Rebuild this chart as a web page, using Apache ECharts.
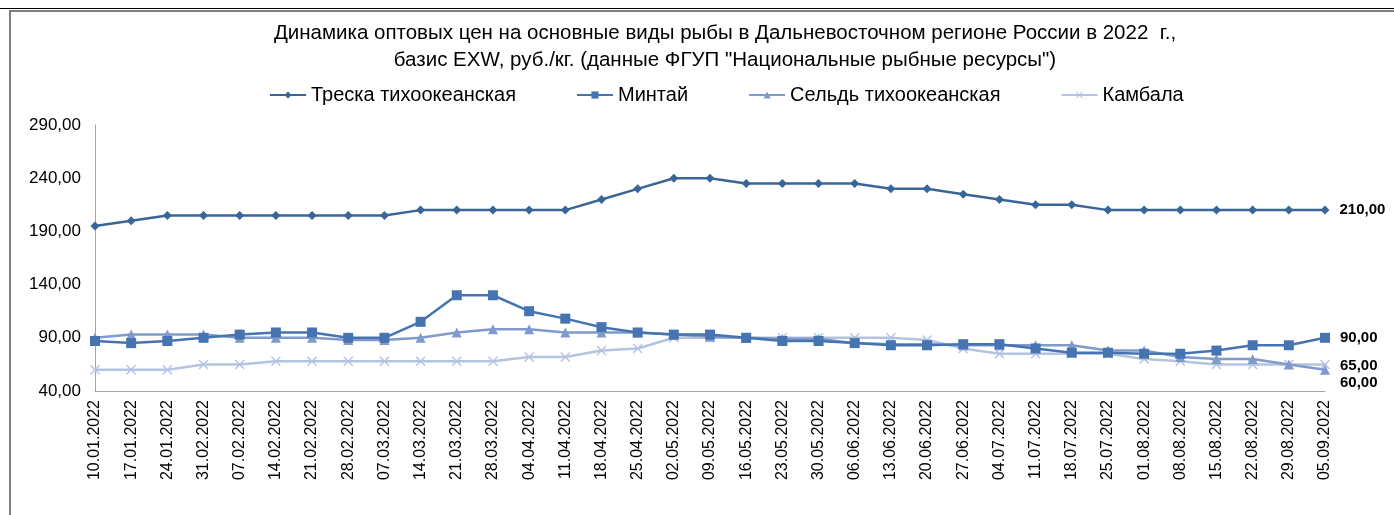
<!DOCTYPE html>
<html>
<head>
<meta charset="utf-8">
<script src="https://cdn.jsdelivr.net/npm/echarts@6/dist/echarts.min.js"></script>
<style>
  html, body { margin: 0; padding: 0; background: #fff; }
  #strip { position: absolute; left: 0; top: 0; width: 1394px; height: 8px; border-bottom: 1px solid #000; }
  #chart { position: absolute; left: 9px; top: 10px; width: 1385px; height: 505px;
           border-left: 2px solid #7f7f7f; border-top: 2px solid #7f7f7f; box-sizing: border-box; }
</style>
</head>
<body>
<div id="strip"></div>
<div id="chart"></div>
<script>
// weekly dates (as printed in the source, including 31.02)
var dates = ['10.01.2022','17.01.2022','24.01.2022','31.02.2022','07.02.2022','14.02.2022','21.02.2022',
  '28.02.2022','07.03.2022','14.03.2022','21.03.2022','28.03.2022','04.04.2022','11.04.2022','18.04.2022',
  '25.04.2022','02.05.2022','09.05.2022','16.05.2022','23.05.2022','30.05.2022','06.06.2022','13.06.2022',
  '20.06.2022','27.06.2022','04.07.2022','11.07.2022','18.07.2022','25.07.2022','01.08.2022','08.08.2022',
  '15.08.2022','22.08.2022','29.08.2022','05.09.2022'];

var cod = [195,200,205,205,205,205,205,205,205,210,210,210,210,210,220,230,240,240,235,235,235,235,
  230,230,225,220,215,215,210,210,210,210,210,210,210];
var pollock = [87,85,87,90,93,95,95,90,90,105,130,130,115,108,100,95,93,93,90,87,87,85,83,83,84,84,
  80,76,76,75,75,78,83,83,90];
var herring = [90,93,93,93,90,90,90,88,88,90,95,98,98,95,95,95,93,91,90,89,89,85,84,84,83,83,83,83,
  78,78,72,70,70,65,60];
var flounder = [60,60,60,65,65,68,68,68,68,68,68,68,72,72,78,80,90,90,90,90,90,90,90,88,80,75,75,75,
  75,70,68,65,65,65,65];

var seriesNames = ['Треска тихоокеанская', 'Минтай', 'Сельдь тихоокеанская', 'Камбала'];
var seriesColors = ['#3a6598', '#4674b0', '#7f9acb', '#b4c4e0'];

var crossSymbol = 'path://M0,1L1,0L5,4L9,0L10,1L6,5L10,9L9,10L5,6L1,10L0,9L4,5Z';

function fmt(v) { return v.toFixed(2).replace('.', ','); }

// only the last point carries a value label
function withEndLabel(values, offsetY) {
  return values.map(function (v, i) {
    if (i !== values.length - 1) return v;
    return { value: v, label: { show: true, position: 'right', distance: 10, offset: [0, offsetY],
      formatter: function (p) { return fmt(p.value); },
      color: '#000', fontWeight: 'bold', fontSize: 15, fontFamily: 'Liberation Sans' } };
  });
}

var chart = echarts.init(document.getElementById('chart'));

function makeSeries(idx, values, symbol, size, offsetY) {
  return {
    name: seriesNames[idx],
    type: 'line',
    data: withEndLabel(values, offsetY),
    symbol: symbol,
    symbolSize: size,
    showAllSymbol: true,
    color: seriesColors[idx],
    lineStyle: { width: 2.5, color: seriesColors[idx] },
    itemStyle: { color: seriesColors[idx] },
    z: 10 - idx
  };
}

chart.setOption({
  animation: false,
  textStyle: { fontFamily: 'Liberation Sans' },
  title: {
    text: 'Динамика оптовых цен на основные виды рыбы в Дальневосточном регионе России в 2022  г.,\nбазис EXW, руб./кг. (данные ФГУП "Национальные рыбные ресурсы")',
    left: 709, top: 3, textAlign: 'center',
    textStyle: { fontSize: 20.5, fontWeight: 'normal', color: '#000', lineHeight: 27, fontFamily: 'Liberation Sans' }
  },
  legend: {
    top: 68, left: 253, itemGap: 60, itemWidth: 36, itemHeight: 9,
    textStyle: { fontSize: 20, color: '#000', fontFamily: 'Liberation Sans' },
    data: seriesNames
  },
  grid: { left: 84, right: 69, top: 113, bottom: 124, containLabel: false },
  xAxis: {
    type: 'category',
    data: dates,
    boundaryGap: false,
    axisLine: { lineStyle: { color: '#a6a6a6', width: 1 } },
    axisTick: { show: false },
    axisLabel: { rotate: 90, interval: 0, fontSize: 16, color: '#000', margin: 9 }
  },
  yAxis: {
    type: 'value',
    min: 40, max: 290, interval: 50,
    splitLine: { show: false },
    axisLine: { show: true, lineStyle: { color: '#a6a6a6', width: 1 } },
    axisTick: { show: false },
    axisLabel: { fontSize: 17, color: '#000', margin: 14, formatter: fmt }
  },
  series: [
    makeSeries(0, cod, 'diamond', 9, 0),
    makeSeries(1, pollock, 'rect', 10, 0),
    makeSeries(2, herring, 'triangle', 10, 13),
    makeSeries(3, flounder, crossSymbol, 10, 1)
  ]
});
</script>
</body>
</html>
